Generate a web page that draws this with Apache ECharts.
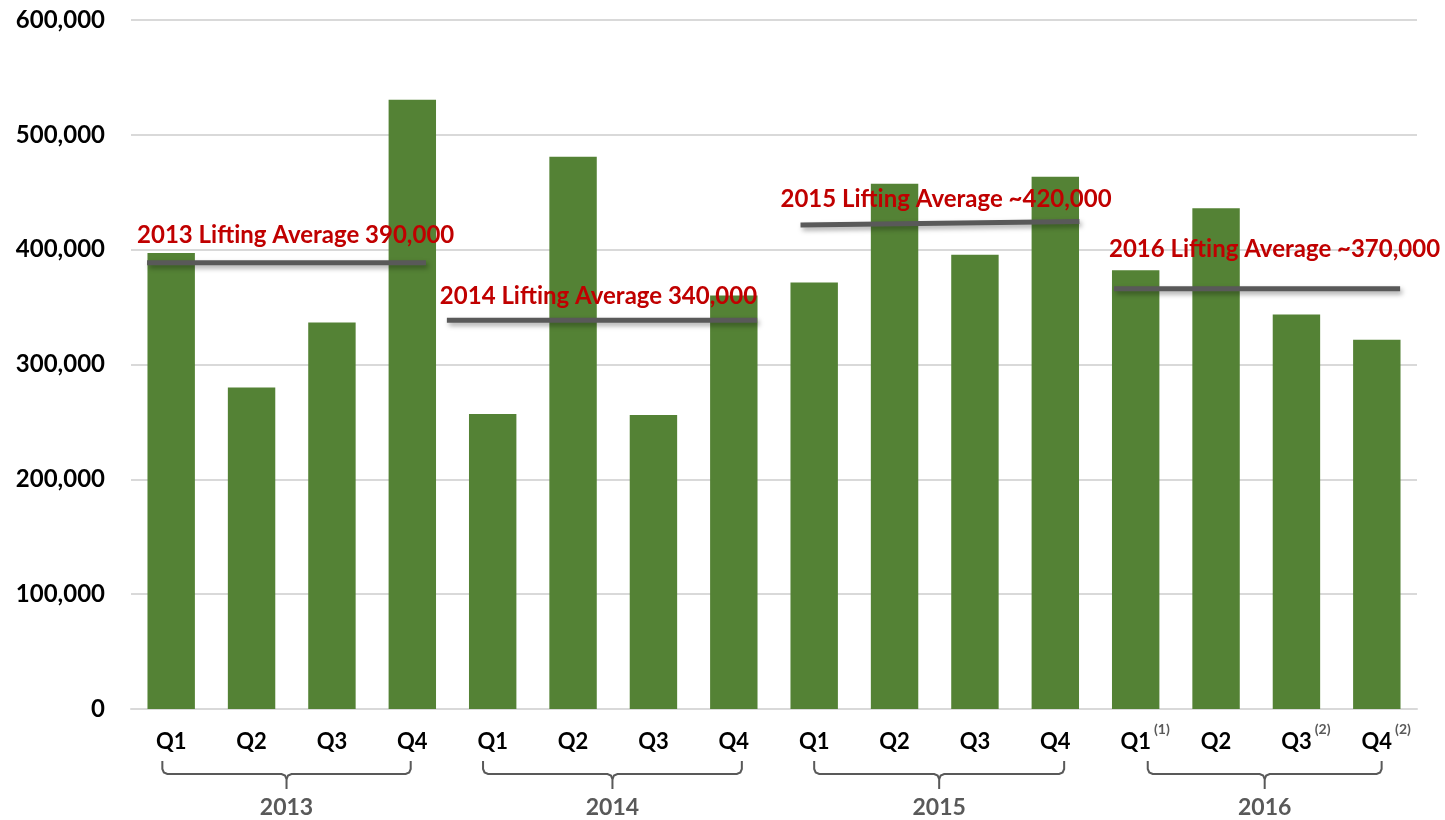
<!DOCTYPE html>
<html>
<head>
<meta charset="utf-8">
<script src="https://cdn.jsdelivr.net/npm/echarts@6/dist/echarts.min.js"></script>
<style>
html,body{margin:0;padding:0;background:#fff;}
#chart{width:1445px;height:820px;}
</style>
</head>
<body>
<div id="chart"></div>
<script>
// ---- data ----
const quarters = ['Q1','Q2','Q3','Q4','Q1','Q2','Q3','Q4','Q1','Q2','Q3','Q4','Q1','Q2','Q3','Q4'];
const footnotes = ['','','','','','','','','','','','','(1)','','(2)','(2)'];
const liftings = [397000, 280000, 336500, 530500, 257000, 481000, 256000, 360000, 371500, 457500, 395500, 463500, 382000, 436000, 343500, 321500];
const years = ['2013','2014','2015','2016'];
const avgLabels = ['2013 Lifting Average 390,000','2014 Lifting Average 340,000','2015 Lifting Average ~420,000','2016 Lifting Average ~370,000'];
const avgStartValues = [388500, 338500, 421500, 366000];
const avgEndValues = [388500, 338500, 424500, 366000];
const yTicks = [0, 100000, 200000, 300000, 400000, 500000, 600000];

// ---- layout / style (not data) ----
const FONT = 'Lato';
const avgLineExtent = [[-0.30, 0.17], [-0.57, 0.29], [-0.17, 0.30], [-0.27, 0.29]];
const avgLabelOffset = [[-10, -28], [-7, -24], [-20, -26], [-5, -39]];
const braceExtent = [[-0.11, -0.02], [-0.12, 0.10], [0.0, 0.11], [0.15, 0.06]];

const avgData = years.map((y, i) => [i * 4, i * 4 + 3, avgStartValues[i], avgEndValues[i], i]);

const chart = echarts.init(document.getElementById('chart'));

const option = {
  animation: false,
  grid: { left: 131, right: 28, top: 20, bottom: 111, containLabel: false },
  xAxis: {
    type: 'category',
    data: quarters.map((q, i) => String(i)),
    axisLine: { show: true, lineStyle: { color: '#d9d9d9', width: 2 } },
    axisTick: { show: false },
    axisLabel: {
      interval: 0,
      margin: 13,
      formatter: function (v) {
        const i = +v;
        const f = footnotes[i];
        return f ? '{p|' + f + '}{q|' + quarters[i] + '}{s|' + f + '}' : '{q|' + quarters[i] + '}';
      },
      rich: {
        q: { fontFamily: FONT, fontWeight: 'bold', fontSize: 22, lineHeight: 40, color: '#000' },
        p: { fontFamily: FONT, fontWeight: 'bold', fontSize: 14, color: 'rgba(0,0,0,0)', padding: [0, 3, 0, 0] },
        s: { fontFamily: FONT, fontWeight: 'bold', fontSize: 14, lineHeight: 16, color: '#595959', verticalAlign: 'top', padding: [0, 0, 0, 3] }
      }
    }
  },
  yAxis: {
    type: 'value',
    min: 0, max: 600000, interval: 100000,
    axisLine: { show: false },
    axisTick: { show: false },
    splitLine: { lineStyle: { color: '#d9d9d9', width: 2 } },
    axisLabel: {
      margin: 26,
      fontFamily: FONT, fontWeight: 'bold', fontSize: 24, color: '#000',
      formatter: v => yTicks.includes(v) ? v.toLocaleString('en-US') : ''
    }
  },
  series: [
    {
      type: 'bar',
      data: liftings,
      barWidth: '59%',
      itemStyle: { color: '#548235' },
      z: 2
    },
    {
      type: 'custom',
      z: 10,
      data: avgData,
      renderItem: function (params, api) {
        const idx = api.value(4);
        const s = api.coord([api.value(0), api.value(2)]);
        const e = api.coord([api.value(1), api.value(3)]);
        const bw = api.size([1, 0])[0];
        const x1 = s[0] + avgLineExtent[idx][0] * bw;
        const x2 = e[0] + avgLineExtent[idx][1] * bw;
        return {
          type: 'group',
          children: [
            {
              type: 'line',
              shape: { x1: x1, y1: s[1], x2: x2, y2: e[1] },
              style: {
                stroke: '#595959', lineWidth: 5,
                shadowBlur: 5, shadowOffsetX: 2, shadowOffsetY: 3, shadowColor: 'rgba(0,0,0,0.35)'
              }
            },
            {
              type: 'text',
              x: x1 + avgLabelOffset[idx][0],
              y: s[1] + avgLabelOffset[idx][1],
              style: {
                text: avgLabels[idx],
                fill: '#c00000',
                font: 'bold 24px ' + FONT,
                textAlign: 'left',
                textVerticalAlign: 'middle'
              }
            }
          ]
        };
      }
    }
  ]
};

chart.setOption(option);

// braces and year labels under the quarter labels
function drawBraces() {
  const baseY = chart.convertToPixel({ yAxisIndex: 0 }, 0);
  const p0 = chart.convertToPixel({ xAxisIndex: 0 }, '0');
  const p1 = chart.convertToPixel({ xAxisIndex: 0 }, '1');
  const bw = p1 - p0;
  const els = [];
  years.forEach((y, i) => {
    const xs = chart.convertToPixel({ xAxisIndex: 0 }, String(i * 4)) + braceExtent[i][0] * bw;
    const xe = chart.convertToPixel({ xAxisIndex: 0 }, String(i * 4 + 3)) + braceExtent[i][1] * bw;
    const xm = (xs + xe) / 2;
    const yTop = baseY + 52, yMid = baseY + 65, yBot = baseY + 80, r = 5;
    els.push({
      type: 'polyline',
      shape: { points: [[xs, yTop], [xs, yMid - r], [xs + 1.5, yMid - 1.5], [xs + r, yMid], [xm - r, yMid], [xm - 1.5, yMid + 1.5], [xm, yMid + r], [xm, yBot]] },
      style: { stroke: '#595959', lineWidth: 2, fill: null }
    });
    els.push({
      type: 'polyline',
      shape: { points: [[xm, yMid + r], [xm + 1.5, yMid + 1.5], [xm + r, yMid], [xe - r, yMid], [xe - 1.5, yMid - 1.5], [xe, yMid - r], [xe, yTop]] },
      style: { stroke: '#595959', lineWidth: 2, fill: null }
    });
    els.push({
      type: 'text',
      x: xm, y: baseY + 99,
      style: {
        text: y, fill: '#595959', font: 'bold 23px ' + FONT,
        textAlign: 'center', textVerticalAlign: 'middle'
      }
    });
  });
  chart.setOption({ graphic: els });
}
drawBraces();
</script>
</body>
</html>
